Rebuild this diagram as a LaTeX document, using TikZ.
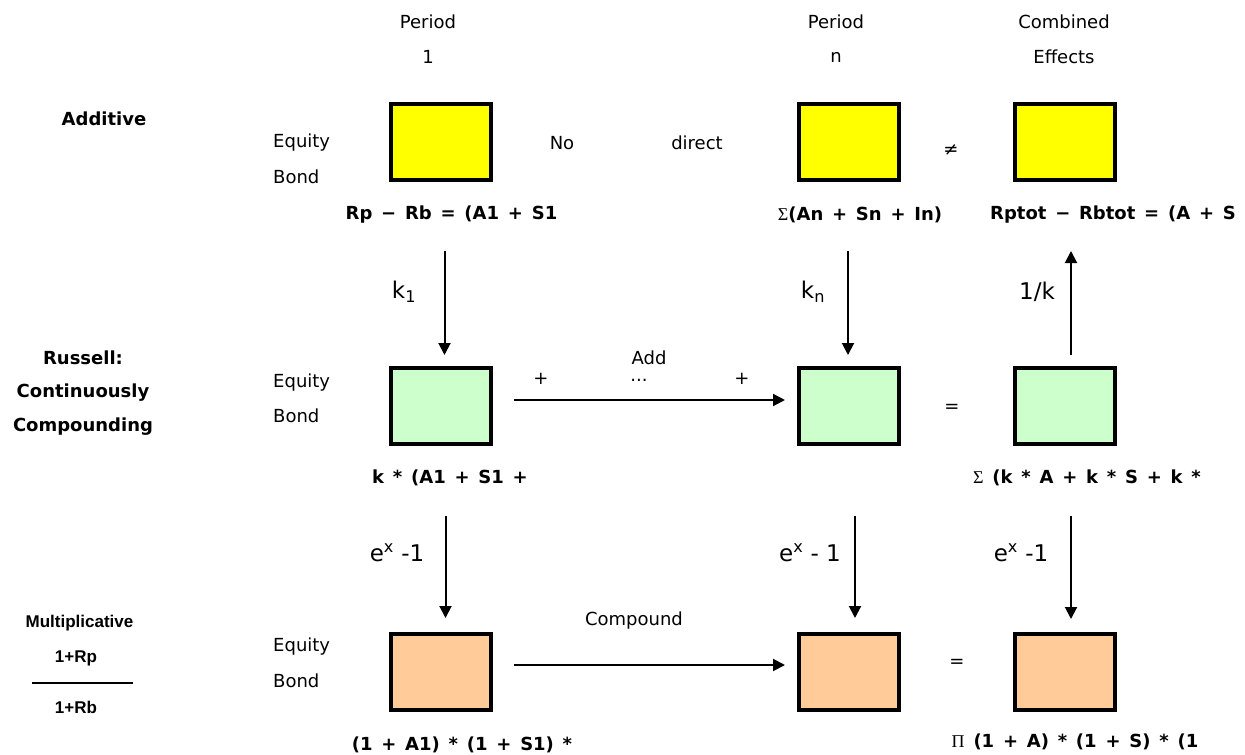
\documentclass[tikz,border=0pt]{standalone}
\usepackage{fontspec}
\setmainfont{DejaVu Sans}
\newfontfamily\fbold[WordSpace=1.4]{DejaVu Sans}
\newfontfamily\arialf{Liberation Sans}
\newfontfamily\serff{Liberation Serif}
\usetikzlibrary{arrows.meta}
\definecolor{byel}{HTML}{FFFF00}
\definecolor{bgrn}{HTML}{CCFFCC}
\definecolor{bora}{HTML}{FFCC99}
\begin{document}
\begin{tikzpicture}[x=1bp,y=-1bp,
  box/.style={draw=black, line width=4bp, minimum width=100bp, minimum height=76bp, inner sep=0pt, anchor=center},
  lbl/.style={font=\fontsize{18bp}{20bp}\selectfont, inner sep=0pt},
  hdr/.style={font=\fontsize{18bp}{20bp}\selectfont, inner sep=0pt},
  form/.style={font=\fbold\bfseries\fontsize{18bp}{20bp}\selectfont, inner sep=0pt},
  side/.style={font=\bfseries\fontsize{18bp}{20bp}\selectfont, inner sep=0pt},
  aside/.style={font=\arialf\bfseries\fontsize{17bp}{19bp}\selectfont, inner sep=0pt},
  arl/.style={font=\fontsize{23bp}{25bp}\selectfont, inner sep=0pt},
  arr/.style={line width=2bp, -{Triangle[length=12bp,width=12bp]}}]
\useasboundingbox (0,0) rectangle (1245,755);

% headers
\node[hdr] (h1a) at (428,22) {Period};
\node[hdr] (h1b) at (428,57) {1};
\node[hdr] (h2a) at (836,22) {Period};
\node[hdr] (h2b) at (836,57) {n};
\node[hdr] (h3a) at (1064,22) {Combined};
\node[hdr] (h3b) at (1064,57) {Effects};

% side labels
\node[side] (sAdd) at (104,119) {Additive};
\node[side] (sRus) at (83,358) {Russell:};
\node[side] (sCon) at (83,393) {Continuously};
\node[side] (sCom) at (83,427) {Compounding};
\node[aside] (sMul) at (79.5,623) {Multiplicative};
\node[aside] (sNum) at (76,658) {1+Rp};
\node[aside] (sDen) at (76,707) {1+Rb};
\coordinate (fracL) at (32,683);
\coordinate (fracR) at (133,683);
\draw[line width=1.5bp] (fracL) -- (fracR);

% Equity / Bond labels
\node[lbl,anchor=west] (e1) at (273,143) {Equity};
\node[lbl,anchor=west] (d1) at (273,177) {Bond};
\node[lbl,anchor=west] (e2) at (273,383) {Equity};
\node[lbl,anchor=west] (d2) at (273,416) {Bond};
\node[lbl,anchor=west] (e3) at (273,647) {Equity};
\node[lbl,anchor=west] (d3) at (273,681) {Bond};

% boxes
\node[box,fill=byel] (b11) at (440.5,142) {};
\node[box,fill=byel] (b12) at (849,142) {};
\node[box,fill=byel] (b13) at (1065,142) {};
\node[box,fill=bgrn] (b21) at (440.5,406) {};
\node[box,fill=bgrn] (b22) at (849,406) {};
\node[box,fill=bgrn] (b23) at (1065,406) {};
\node[box,fill=bora] (b31) at (440.5,672) {};
\node[box,fill=bora] (b32) at (849,672) {};
\node[box,fill=bora] (b33) at (1065,672) {};

% row 1 extras
\node[lbl] (no) at (562,143) {No};
\node[lbl] (direct) at (697,143) {direct};
\node[lbl] (neq) at (951,150) {≠};
\node[lbl] (eq2) at (952,408) {=};
\node[lbl] (eq3) at (957,663) {=};

% formulas
\node[form] (f1) at (451.5,215) {Rp − Rb = (A1 + S1};
\node[form] (f2) at (860,215) {{\serff\mdseries Σ}(An + Sn + In)};
\node[form] (f3) at (1113,215) {Rptot − Rbtot = (A + S};
\node[form] (g1) at (450,478) {k * (A1 + S1 +};
\node[form] (g3) at (1087,478) {{\serff\mdseries Σ} (k * A + k * S + k *};
\node[form] (k1f) at (462,745) {(1 + A1) * (1 + S1) *};
\node[form] (k3f) at (1075,742) {{\serff\mdseries Π} (1 + A) * (1 + S) * (1};

% arrow labels
\node[arl] (lk1) at (404,292) {k\textsubscript{1}};
\node[arl] (lkn) at (813,292) {k\textsubscript{n}};
\node[arl] (lik) at (1037,292) {1/k};
\node[arl] (le1) at (397,553) {e\textsuperscript{x} -1};
\node[arl] (le2) at (810,553) {e\textsuperscript{x} - 1};
\node[arl] (le3) at (1021,553) {e\textsuperscript{x} -1};

% horizontal labels
\node[lbl] (add) at (649,358) {Add};
\node[lbl] (pl1) at (541,379) {+};
\node[lbl] (dots) at (639,380) {...};
\node[lbl] (pl2) at (742,379) {+};
\node[lbl] (comp) at (634,621) {Compound};

% vertical arrows
\draw[arr, shorten <=69bp, shorten >=11bp] ([xshift=4bp]b11.south) -- ([xshift=4bp]b21.north);
\draw[arr, shorten <=70bp, shorten >=14bp] ([xshift=5bp]b21.south) -- ([xshift=5bp]b31.north);
\draw[arr, shorten <=69bp, shorten >=11bp] ([xshift=-1bp]b12.south) -- ([xshift=-1bp]b22.north);
\draw[arr, shorten <=70bp, shorten >=14bp] ([xshift=6bp]b22.south) -- ([xshift=6bp]b32.north);
\draw[arr, shorten <=11bp, shorten >=69bp] ([xshift=6bp]b23.north) -- ([xshift=6bp]b13.south);
\draw[arr, shorten <=70bp, shorten >=13bp] ([xshift=6bp]b23.south) -- ([xshift=6bp]b33.north);

% horizontal arrows
\draw[arr, shorten <=21.5bp, shorten >=12bp] ([yshift=6bp]b21.east) -- ([yshift=6bp]b22.west);
\draw[arr, shorten <=21.5bp, shorten >=12bp] ([yshift=7bp]b31.east) -- ([yshift=7bp]b32.west);
\end{tikzpicture}
\end{document}
